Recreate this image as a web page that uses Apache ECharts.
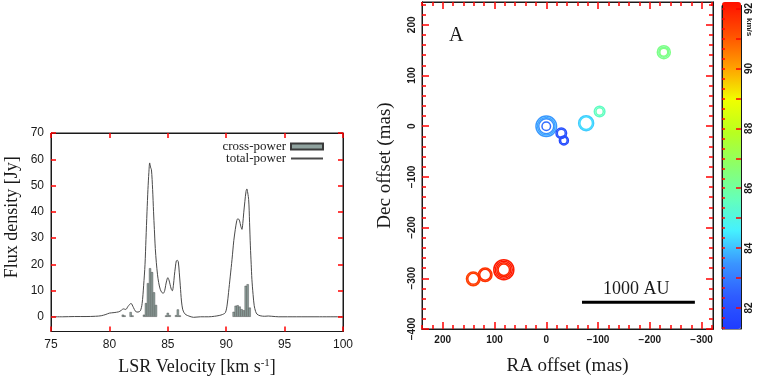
<!DOCTYPE html>
<html>
<head>
<meta charset="utf-8">
<script src="https://cdn.jsdelivr.net/npm/echarts@6.0.0/dist/echarts.min.js"></script>
<style>
  html, body { margin: 0; padding: 0; background: #fff; }
  #main { width: 763px; height: 381px; }
</style>
</head>
<body>
<div id="main"></div>
<script>
// ---- left panel: spectrum ----
var specVel  = [75, 76, 77, 78, 78.8, 79.3, 79.7, 80, 80.4, 80.8, 81, 81.2, 81.4, 81.6, 81.85, 82.05, 82.25, 82.45, 82.65, 82.8,
  82.93, 83.05, 83.13, 83.22, 83.3, 83.38, 83.45, 83.52, 83.6, 83.7, 83.78, 83.85, 83.93, 84.02, 84.12, 84.22, 84.35, 84.5, 84.62, 84.73,
  84.82, 84.9, 85, 85.1, 85.19, 85.3, 85.39, 85.48, 85.56, 85.65, 85.73, 85.82, 85.9, 85.98, 86.07, 86.17, 86.27, 86.4, 86.55, 86.8,
  87.2, 87.8, 88.5, 89, 89.4, 89.7, 89.93, 90.08, 90.2, 90.35, 90.5, 90.65, 90.78, 90.9, 90.98, 91.07, 91.15, 91.25, 91.35, 91.42,
  91.5, 91.6, 91.7, 91.78, 91.84, 91.92, 92, 92.07, 92.14, 92.2, 92.3, 92.4, 92.52, 92.64, 92.9, 93.3, 93.6, 93.9, 94.5, 96, 98, 100];
var specFlux = [0, 0, 0.1, 0.1, 0.2, 0.4, 0.9, 1.4, 1.6, 1.9, 2.4, 3.0, 2.8, 4.0, 5.1, 3.6, 2.0, 1.8, 2.3, 5,
  11.8, 20, 29.5, 40, 48.5, 55, 58.6, 57, 56, 48.5, 40, 33.3, 26, 20.6, 16, 13, 10.5, 9.2, 9.0, 9.9,
  12, 13.7, 14.9, 14, 12.4, 10.5, 9.9, 12, 15.6, 19, 21.3, 21.5, 20.9, 17, 11.8, 6, 2.9, 1.5, 0.8, 0.3,
  -0.2, 0, 0, 0.2, 0.5, 0.9, 1.6, 4.5, 9.2, 15.5, 21.9, 29, 33.3, 36.5, 37.3, 37.2, 36.5, 34.5, 33.3, 35.5,
  39.6, 44, 47.8, 48.7, 48.7, 44.7, 36, 27, 20, 14.3, 8.5, 4.2, 2, 1.0, 0.4, 0.2, 0.3, 0.2, 0, 0, 0, 0];

var barVel  = [81.15, 81.3, 81.82, 81.98, 82.96, 83.13, 83.30, 83.48, 83.65, 83.82, 83.99, 84.85, 85.0, 85.17, 85.7, 85.86, 86.03,
  90.64, 90.81, 90.98, 91.15, 91.32, 91.50, 91.67, 91.84, 92.01];
var barFlux = [0.8, 0.5, 1.8, 0.5, 0.8, 5.2, 12.8, 18.5, 17.0, 9.3, 4.5, 0.5, 1.5, 0.6, 0.6, 2.8, 0.5,
  1.9, 4.2, 4.4, 3.9, 2.9, 2.5, 11.8, 12.4, 3.5];

var fluxTicks = [0, 10, 20, 30, 40, 50, 60, 70];

// ---- right panel: maser spot map ----
var spotRA   = [-227, -227, -227, -103, -103, -77, -77, 0, 0, 0, 0, -29, -29, -34, -34,
  141, 141, 118, 118, 82, 82, 82, 82];
var spotDec  = [146, 146, 146, 29, 29, 6, 6, 0, 0, 0, 0, -14, -14, -28, -28,
  -301, -301, -293, -293, -283, -283, -283, -283];
var spotVel  = [86.3, 86.1, 86.4, 85.4, 85.6, 84.1, 84.3, 83.5, 83.7, 83.4, 82.7, 82.0, 82.2, 81.8, 82.0,
  91.3, 91.4, 91.5, 91.6, 91.9, 92.0, 91.8, 91.7];
var spotFlux = [8.7, 5.2, 3.3, 5.8, 2.8, 11.6, 8.2, 21.9, 16, 11.6, 3.8, 5.8, 3.3, 4.2, 2.25,
  9.6, 6.25, 9.6, 6.25, 20.7, 14.9, 10.1, 6.7];

var raMajor  = [-300, -200, -100, 0, 100, 200];
var decMajor = [-400, -300, -200, -100, 0, 100, 200];
var scaleBarRA  = [-69, -287];
var scaleBarDec = [-347, -347];

var velBarMin = 81.3, velBarMax = 92.1;
var velLabels = [82, 84, 86, 88, 90, 92];
var jet = ['#1f3cff', '#2f5cff', '#3a95ff', '#45f0ff', '#66ffb8', '#8cff6a', '#b8ff20', '#f0ff00', '#ffa000', '#ff5000', '#ff1000'];

function range(a, b, step) {
  var out = [];
  for (var v = a; v <= b + 1e-9; v += step) out.push(Math.round(v * 1000) / 1000);
  return out;
}
function minus(v) { return String(v).replace('-', '\u2212'); }

var SERIF = 'Liberation Serif';
var SANS = 'Liberation Sans';
var ink = '#1a1a1a';
var tickInk = 'red';

// inward ticks like the gnuplot/pgplot frames
function ticks(len, vals) {
  var t = { show: true, inside: true, length: len, lineStyle: { color: tickInk, width: 1.5 } };
  if (vals) t.customValues = vals;
  return t;
}
function ax(o) {
  var base = {
    type: 'value',
    z: 5,
    splitLine: { show: false },
    axisLine: { show: true, onZero: false, lineStyle: { color: ink, width: 1 } },
    axisTick: ticks(4),
    axisLabel: { show: false },
    silent: true
  };
  return Object.assign(base, o);
}

var specLine = specVel.map(function (v, i) { return [v, specFlux[i]]; });
var specBars = barVel.map(function (v, i) { return [v, barFlux[i]]; });
var spots = spotRA.map(function (v, i) { return [v, spotDec[i], spotVel[i], spotFlux[i]]; });
var scaleBar = scaleBarRA.map(function (v, i) { return [v, scaleBarDec[i]]; });

var sansLabel = { show: true, fontFamily: SANS, fontSize: 12, color: ink, margin: 7 };
var mapLabel = { show: true, fontFamily: SANS, fontWeight: 'bold', fontSize: 10, color: ink, formatter: minus };
var raMinor = range(-320, 240, 20), decMinor = range(-400, 240, 20);

var option = {
  backgroundColor: '#fff',
  animation: false,
  grid: [
    { left: 51, top: 133, width: 292, height: 199, show: true, borderColor: ink, borderWidth: 1 },
    { left: 422, top: 2, width: 291, height: 331, show: true, borderColor: ink, borderWidth: 1 },
    { left: 722, top: 2, width: 19, height: 327, show: true, borderColor: ink, borderWidth: 1 }
  ],
  legend: {
    orient: 'vertical', align: 'right',
    right: 434, top: 135, itemWidth: 32, itemHeight: 6, itemGap: -1,
    textStyle: { fontFamily: SERIF, fontSize: 13, color: ink, lineHeight: 11 },
    data: [
      { name: 'cross-power', icon: 'rect' },
      { name: 'total-power', itemStyle: { opacity: 0 } }
    ]
  },
  xAxis: [
    ax({ gridIndex: 0, position: 'bottom', min: 75, max: 100, interval: 5,
      axisTick: ticks(5),
      axisLabel: sansLabel,
      name: 'LSR Velocity [km s{sup|-1}]', nameLocation: 'middle', nameGap: 26,
      nameTextStyle: { fontFamily: SERIF, fontSize: 18, color: ink,
        rich: { sup: { fontFamily: SERIF, fontSize: 11, verticalAlign: 'top', padding: [0, 0, 8, 0], color: ink } } } }),
    ax({ gridIndex: 0, position: 'top', min: 75, max: 100, interval: 5, axisTick: ticks(5) }),
    ax({ gridIndex: 1, position: 'bottom', min: -322, max: 240, inverse: true,
      axisTick: ticks(7, raMajor),
      axisLabel: Object.assign({ customValues: raMajor, margin: 6 }, mapLabel),
      name: 'RA offset (mas)', nameLocation: 'middle', nameGap: 28,
      nameTextStyle: { fontFamily: SERIF, fontSize: 19, color: ink } }),
    ax({ gridIndex: 1, position: 'bottom', min: -322, max: 240, inverse: true, axisTick: ticks(4, raMinor) }),
    ax({ gridIndex: 1, position: 'top', min: -322, max: 240, inverse: true, axisTick: ticks(7, raMajor) }),
    ax({ gridIndex: 1, position: 'top', min: -322, max: 240, inverse: true, axisTick: ticks(4, raMinor) }),
    ax({ gridIndex: 2, min: 0, max: 1, show: false })
  ],
  yAxis: [
    ax({ gridIndex: 0, position: 'left', min: -5.6, max: 70,
      axisTick: ticks(5, fluxTicks),
      axisLabel: Object.assign({}, sansLabel, { customValues: fluxTicks }),
      name: 'Flux density [Jy]', nameLocation: 'middle', nameGap: 30,
      nameTextStyle: { fontFamily: SERIF, fontSize: 18, color: ink, padding: [0, 0, 0, 30] } }),
    ax({ gridIndex: 0, position: 'right', min: -5.6, max: 70, axisTick: ticks(5, fluxTicks) }),
    ax({ gridIndex: 1, position: 'left', min: -400, max: 245,
      axisTick: ticks(7, decMajor),
      axisLabel: Object.assign({ customValues: decMajor, rotate: 90, margin: 5 }, mapLabel),
      name: 'Dec offset (mas)', nameLocation: 'middle', nameGap: 27,
      nameTextStyle: { fontFamily: SERIF, fontSize: 19, color: ink } }),
    ax({ gridIndex: 1, position: 'left', min: -400, max: 245, axisTick: ticks(4, decMinor) }),
    ax({ gridIndex: 1, position: 'right', min: -400, max: 245, axisTick: ticks(7, decMajor) }),
    ax({ gridIndex: 1, position: 'right', min: -400, max: 245, axisTick: ticks(4, decMinor) }),
    ax({ gridIndex: 2, position: 'right', min: velBarMin, max: velBarMax, z: 10,
      axisTick: ticks(5, range(82, 92, 1)),
      axisLabel: Object.assign({ customValues: velLabels, rotate: 90, margin: 3 }, mapLabel) }),
    ax({ gridIndex: 2, position: 'left', min: velBarMin, max: velBarMax, z: 10,
      axisTick: ticks(3, range(81.3333, 92, 1 / 3)) })
  ],
  visualMap: {
    type: 'continuous', min: velBarMin, max: velBarMax, dimension: 2, seriesIndex: 2,
    calculable: false, left: 722, top: 2, itemWidth: 19, itemHeight: 327, padding: 0, z: 1,
    inRange: { color: jet }
  },
  series: [
    {
      name: 'cross-power', type: 'bar', xAxisIndex: 0, yAxisIndex: 0,
      barWidth: 2.2, data: specBars,
      itemStyle: { color: '#8fa29e', borderColor: '#3a3a3a', borderWidth: 0.4 }
    },
    {
      name: 'total-power', type: 'line', xAxisIndex: 0, yAxisIndex: 0,
      data: specLine, symbol: 'none', smooth: 0.3,
      lineStyle: { color: '#4a4a4a', width: 1 }, itemStyle: { color: '#4a4a4a' }
    },
    {
      name: 'spots', type: 'custom', xAxisIndex: 2, yAxisIndex: 2,
      data: spots,
      encode: { x: 0, y: 1 },
      renderItem: function (params, api) {
        var p = api.coord([api.value(0), api.value(1)]);
        return {
          type: 'circle',
          shape: { cx: p[0], cy: p[1], r: 2.2 * Math.sqrt(api.value(3)) },
          style: { fill: 'none', stroke: api.visual('color'), lineWidth: 1.5 }
        };
      }
    },
    {
      name: 'scale', type: 'line', xAxisIndex: 2, yAxisIndex: 2,
      data: scaleBar, symbol: 'none',
      lineStyle: { color: '#000', width: 3 }
    }
  ],
  graphic: [
    { type: 'text', left: 449, top: 26, style: { text: 'A', font: '20px "Liberation Serif"', fill: ink } },
    { type: 'text', left: 603, top: 280, style: { text: '1000 AU', font: '18px "Liberation Serif"', fill: ink } },
    { type: 'text', x: 753, y: 18, rotation: Math.PI / 2 * 3, originX: 0, originY: 0,
      style: { text: 'km/s', font: 'bold 8px "Liberation Sans"', fill: ink } }
  ]
};

var chart = echarts.init(document.getElementById('main'));
chart.setOption(option);
</script>
</body>
</html>
